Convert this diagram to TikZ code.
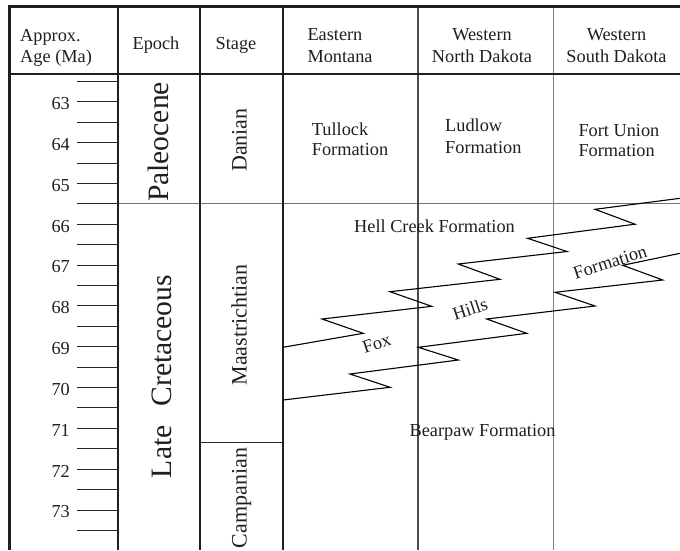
\documentclass[tikz,border=0pt]{standalone}
\usepackage{fontspec}
\setmainfont{Liberation Serif}
\begin{document}
\begin{tikzpicture}[x=1pt,y=-1pt,
  thickln/.style={line width=2.6pt, draw=black!88},
  darkgray/.style={line width=1.2pt, draw=black!70},
  lightgray/.style={line width=1.5pt, draw=black!50},
  tickln/.style={line width=0.9pt, draw=black!85},
  bndln/.style={line width=1pt, draw=black!55},
  zigln/.style={line width=1.1pt, draw=black},
  txt/.style={font=\fontsize{18.3}{21}\selectfont, text=black!88, inner sep=0pt},
  epochtxt/.style={font=\fontsize{29.6}{32}\selectfont, text=black!88, inner sep=0pt, rotate=90, anchor=base},
  stagetxt/.style={font=\fontsize{22}{24}\selectfont, text=black!88, inner sep=0pt, rotate=90, anchor=base},
  slanttxt/.style={txt, rotate=18}]
\useasboundingbox (0,0) rectangle (680,550);
\fill[white] (0,0) rectangle (680,550);

% age ticks
\foreach \a in {62.5,63,...,73.5}{
  \pgfmathsetmacro{\yy}{101.7+(\a-63)*40.83}
  \draw[tickln] (77,\yy) -- (117,\yy);
}
\foreach \n in {63,...,73}{
  \pgfmathsetmacro{\yy}{101.7+(\n-63)*40.83+2}
  \node[txt, anchor=east] (age\n) at (70,\yy) {\n};
}

% boundaries
\draw[bndln] (118,203.8) -- (680,203.8);
\draw[tickln] (200,442) -- (283,442);

% column lines
\draw[darkgray] (418,6.5) -- (418,550);
\draw[lightgray] (553.5,6.5) -- (553.5,550);
\draw[thickln] (9.5,6.5) -- (680,6.5);
\draw[thickln] (9.5,74) -- (680,74);
\draw[thickln] (9.5,5.2) -- (9.5,550);
\draw[thickln] (118,5.2) -- (118,550);
\draw[thickln] (200,5.2) -- (200,550);
\draw[thickln] (283,5.2) -- (283,550);

% zigzag contacts
\draw[zigln] (283,347.3) -- (363.3,333.3) -- (322,319) -- (431.7,306.3) -- (390,291.7)
  -- (500,279.3) -- (458.3,264) -- (567,251.5) -- (527.5,238.3) -- (635,224.2)
  -- (595,209.3) -- (680,198.3);
\draw[zigln] (283,400) -- (390,387.3) -- (350,374) -- (458.3,360) -- (418.3,347.3)
  -- (526.7,333.3) -- (486.7,319) -- (595,306) -- (555,292.3) -- (662.7,280)
  -- (622.7,265.3) -- (680,253.3);

% header
\node[txt, anchor=base west] (h1a) at (20,41.7) {Approx.};
\node[txt, anchor=base west] (h1b) at (20,62) {Age (Ma)};
\node[txt, anchor=base] (h2) at (156,49) {Epoch};
\node[txt, anchor=base] (h3) at (236,49) {Stage};
\node[txt, anchor=base west] (h4a) at (307.3,40) {Eastern};
\node[txt, anchor=base west] (h4b) at (307.3,62) {Montana};
\node[txt, anchor=base] (h5a) at (482,40) {Western};
\node[txt, anchor=base] (h5b) at (482,62) {North Dakota};
\node[txt, anchor=base] (h6a) at (616.5,40) {Western};
\node[txt, anchor=base] (h6b) at (616.5,62) {South Dakota};

% epochs and stages
\node[epochtxt] (pal) at (168.3,142) {Paleocene};
\node[epochtxt] (lcr) at (171,376.5) {Late\hspace{19pt}Cretaceous};
\node[stagetxt] (dan) at (246.7,140) {Danian};
\node[stagetxt] (maa) at (246.7,325) {Maastrichtian};
\node[stagetxt] (cam) at (246.7,498) {Campanian};

% formations
\node[txt, anchor=base west] (tu1) at (311.7,135) {Tullock};
\node[txt, anchor=base west] (tu2) at (311.7,155) {Formation};
\node[txt, anchor=base west] (lu1) at (445,131.7) {Ludlow};
\node[txt, anchor=base west] (lu2) at (445,153.3) {Formation};
\node[txt, anchor=base west] (fu1) at (578.3,136.7) {Fort Union};
\node[txt, anchor=base west] (fu2) at (578.3,156.7) {Formation};
\node[txt, anchor=base] (hc) at (434.5,232) {Hell Creek Formation};
\node[txt, anchor=base] (bp) at (482.5,436.7) {Bearpaw Formation};
\node[slanttxt] (fox) at (376.7,343.3) {Fox};
\node[slanttxt] (hil) at (470,309) {Hills};
\node[slanttxt] (fhf) at (610,262.3) {Formation};
\end{tikzpicture}
\end{document}
